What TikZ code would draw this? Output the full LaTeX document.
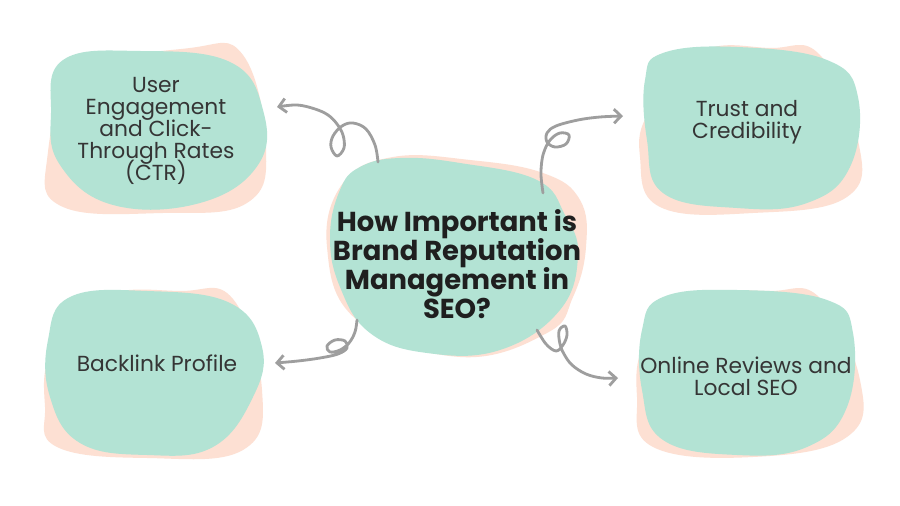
\documentclass[tikz,border=0pt]{standalone}
\usepackage{fontspec}
\setmainfont{Poppins}
\usetikzlibrary{arrows.meta}

\definecolor{mint}{HTML}{B3E3D4}
\definecolor{peach}{HTML}{FDE0D3}
\definecolor{curlgray}{HTML}{9E9E9E}
\definecolor{inkgray}{HTML}{353535}
\protected\def\tightlines{\lineskiplimit=-100pt\relax}

\begin{document}
\begin{tikzpicture}[x=0.02cm, y=-0.02cm,
	mintblob/.style={fill=mint, draw=none},
	peachblob/.style={fill=peach, draw=none},
	lbl/.style={align=center, text=inkgray, font=\fontsize{12.4}{12.5}\selectfont\tightlines},
	hub/.style={align=center, text=black!88, font=\bfseries\fontsize{15.6}{16.4}\selectfont\tightlines},
	curl/.style={curlgray, line width=1.6pt, line cap=round, line join=round, -{Straight Barb[length=4pt,width=8pt]}}]
		\fill[white] (0, 0) rectangle (900, 506);
		%%
		\fill[peachblob] plot[smooth cycle, tension=0.7] coordinates {(80, 75) (190, 48) (243, 55) (266, 147) (247, 203) (163, 213) (63, 207) (47, 160)};
		\fill[mintblob] plot[smooth cycle, tension=0.7] coordinates {(63, 60) (140, 51) (230, 62) (263, 110) (258, 165) (200, 203) (113, 205) (60, 165) (51, 113)};
		%%
		\fill[peachblob] plot[smooth cycle, tension=0.7] coordinates {(700, 52) (770, 48) (820, 55) (858, 140) (847, 197) (753, 213) (660, 207) (640, 157) (650, 110)};
		\fill[mintblob] plot[smooth cycle, tension=0.7] coordinates {(663, 53) (737, 47) (827, 60) (858, 97) (850, 167) (807, 203) (737, 208) (663, 193) (647, 140) (645, 80)};
		%%
		\fill[peachblob] plot[smooth cycle, tension=0.7] coordinates {(100, 297) (180, 291) (233, 299) (262, 390) (243, 450) (147, 458) (57, 447) (45, 407) (52, 350)};
		\fill[mintblob] plot[smooth cycle, tension=0.7] coordinates {(70, 297) (147, 291) (230, 303) (262, 347) (253, 397) (213, 447) (147, 455) (80, 443) (50, 397) (48, 340)};
		%%
		\fill[peachblob] plot[smooth cycle, tension=0.7] coordinates {(700, 297) (770, 291) (820, 298) (860, 380) (847, 437) (753, 457) (653, 447) (637, 397) (647, 340)};
		\fill[mintblob] plot[smooth cycle, tension=0.7] coordinates {(663, 297) (737, 290) (827, 300) (853, 333) (847, 407) (807, 447) (737, 455) (663, 440) (642, 390) (642, 330)};
		%%
		\fill[peachblob] plot[smooth cycle, tension=0.7] coordinates {(393, 157) (470, 160) (543, 173) (580, 200) (586, 247) (573, 297) (547, 333) (460, 357) (357, 320) (327, 247) (343, 183)};
		\fill[mintblob] plot[smooth cycle, tension=0.7] coordinates {(360, 167) (400, 158) (460, 163) (537, 180) (565, 215) (578, 255) (560, 310) (500, 350) (427, 353) (370, 333) (340, 287) (330, 237) (340, 190)};
		%%
		\node[hub] (seo) at (457, 264) {How Important is\\Brand Reputation\\Management in\\SEO?};
		\node[lbl] (ctr) at (156, 131) {User\\Engagement\\and Click-\\Through Rates\\(CTR)};
		\node[lbl] (trust) at (747, 122) {Trust and\\Credibility};
		\node[lbl] (links) at (157, 363) {Backlink Profile};
		\node[lbl] (local) at (746, 376) {Online Reviews and\\Local SEO};
		%%
		\coordinate (hubUL) at (378, 162);
		\coordinate (tipUL) at (277, 107);
		\coordinate (hubUR) at (543, 193);
		\coordinate (tipUR) at (623, 116);
		\coordinate (hubDL) at (357, 320);
		\coordinate (tipDL) at (275, 363);
		\coordinate (hubDR) at (537, 330);
		\coordinate (tipDR) at (618, 378);
		%%
		\draw[curl] plot[smooth, tension=0.6] coordinates {(hubUL) (375, 145) (366, 129) (353, 123) (342, 126) (333, 136) (331, 147) (337, 156) (344, 148) (343, 135) (337, 124) (328, 115) (315, 109) (297, 105) (tipUL)};
		\draw[curl] plot[smooth, tension=0.6] coordinates {(hubUR) (541, 175) (542, 160) (545, 149) (551, 139) (560, 133) (569, 135) (566, 144) (555, 147) (547, 142) (547, 133) (556, 126) (578, 120) (600, 117) (tipUR)};
		\draw[curl] plot[smooth, tension=0.6] coordinates {(hubDL) (355, 332) (349, 343) (340, 350) (330, 352) (327, 346) (335, 340) (345, 341) (347, 348) (338, 354) (320, 358) (298, 361) (tipDL)};
		\draw[curl] plot[smooth, tension=0.6] coordinates {(hubDR) (546, 344) (556, 351) (563, 345) (567, 335) (565, 326) (559, 331) (560, 344) (564, 354) (572, 365) (586, 374) (602, 378) (tipDR)};
	\end{tikzpicture}
\end{document}
